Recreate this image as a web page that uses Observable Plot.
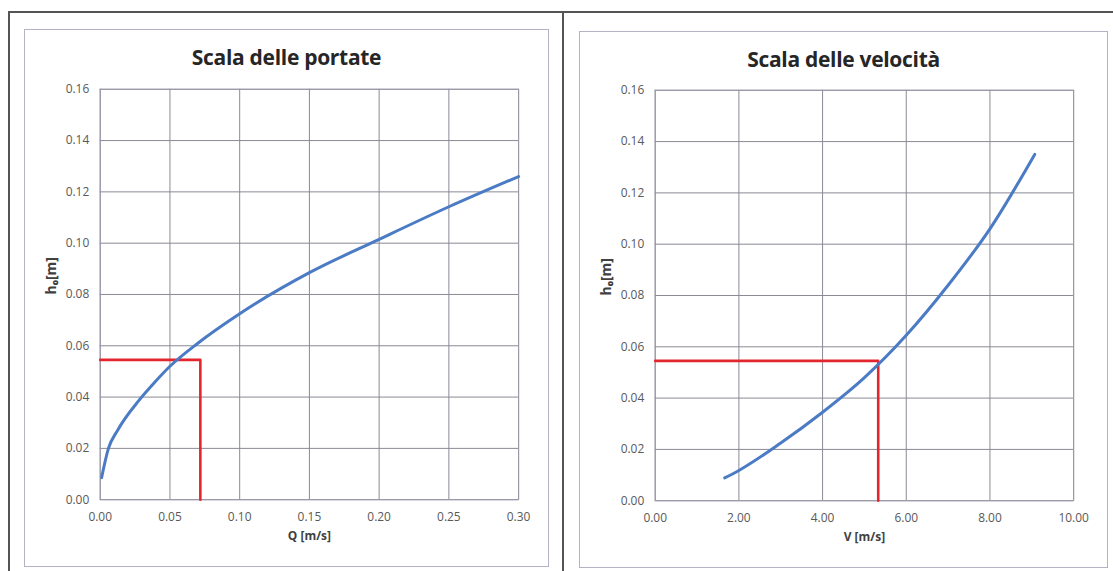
<!DOCTYPE html>
<html><head><meta charset="utf-8">
<script src="https://cdn.jsdelivr.net/npm/d3@7"></script>
<script src="https://cdn.jsdelivr.net/npm/@observablehq/plot@0.6"></script>
<style>
body{margin:0;background:#fff;font-family:Lato,"Open Sans",sans-serif;}
#page{position:relative;width:1113px;height:571px;overflow:hidden;background:#fff}
.line{position:absolute;background:#555}
.box{position:absolute;border:1px solid #b4b2c4;box-sizing:border-box}
.box svg{position:absolute;left:-1px;top:-1px}
.title{position:absolute;left:0;right:0;text-align:center;font-weight:bold;font-size:21px;color:#262626;font-family:"Open Sans",sans-serif;letter-spacing:-0.3px}
</style></head>
<body><div id="page">
<div class="line" style="left:8px;top:11px;width:1105px;height:2px"></div>
<div class="line" style="left:8px;top:11px;width:2px;height:560px"></div>
<div class="line" style="left:562px;top:11px;width:2px;height:560px"></div>
<div class="box" id="left" style="left:24px;top:29px;width:525px;height:538px"><div class="title" id="t1" style="top:13px"></div></div>
<div class="box" id="right" style="left:579px;top:31px;width:529px;height:537px"><div class="title" id="t2" style="top:13px"></div></div>
</div>
<script>
const titles = ["Scala delle portate", "Scala delle velocità"];
const xLabels = ["Q [m/s]", "V [m/s]"];
const yLabel = "h₀[m]";
const xTicksQ = [0, 0.05, 0.10, 0.15, 0.20, 0.25, 0.30];
const xTicksV = [0, 2, 4, 6, 8, 10];
const yTicks = [0, 0.02, 0.04, 0.06, 0.08, 0.10, 0.12, 0.14, 0.16];

const portateQ = [0.001, 0.0059, 0.0124, 0.0278, 0.037, 0.05, 0.07, 0.10, 0.15, 0.20, 0.25, 0.30];
const portateH = [0.0086, 0.020, 0.027, 0.0387, 0.0445, 0.052, 0.061, 0.0725, 0.0885, 0.1015, 0.1142, 0.126];
const velocitaV = [1.66, 2.0, 3.0, 4.0, 5.0, 6.0, 7.0, 8.0, 9.07];
const velocitaH = [0.0089, 0.0118, 0.0225, 0.0345, 0.048, 0.0645, 0.084, 0.106, 0.135];
const readQ = 0.0718, readV = 5.33, readH = 0.0545;

const fmt = d3.format(".2f");
const blue = "#4a7bc4", red = "#e3262d", grid = "#8a8a96";

function chart(xs, ys, xTicks, xDomain, xLabel, readX, w, h, m) {
  const data = xs.map((x, i) => ({x, y: ys[i]}));
  return Plot.plot({
    width: w, height: h,
    marginLeft: m[0], marginTop: m[1], marginRight: m[2], marginBottom: m[3],
    style: {background: "transparent", color: "#595959", fontSize: "12px", fontFamily: "'Open Sans', Lato, sans-serif"},
    x: {domain: xDomain},
    y: {domain: [0, 0.16]},
    marks: [
      Plot.gridX(xTicks, {stroke: grid, strokeOpacity: 1}),
      Plot.gridY(yTicks, {stroke: grid, strokeOpacity: 1}),
      Plot.frame({stroke: "#9a98aa"}),
      Plot.axisX({ticks: xTicks, tickSize: 0, tickPadding: 13, tickFormat: fmt, label: null}),
      Plot.axisY({ticks: yTicks, tickSize: 0, tickPadding: 11, tickFormat: fmt, label: null}),
      Plot.text([xLabel], {frameAnchor: "bottom", dy: 40, fontWeight: "bold", fontSize: 12, fill: "#404040"}),
      Plot.text([yLabel], {frameAnchor: "left", dx: -49, rotate: -90, fontWeight: "bold", fontSize: 14, fill: "#404040"}),
      Plot.line([{x: xDomain[0], y: readH}, {x: readX, y: readH}, {x: readX, y: 0}], {x: "x", y: "y", stroke: red, strokeWidth: 2.6}),
      Plot.line(data, {x: "x", y: "y", stroke: blue, strokeWidth: 3, curve: "monotone-x"})
    ]
  });
}

document.getElementById("t1").textContent = titles[0];
document.getElementById("t2").textContent = titles[1];
document.getElementById("left").append(chart(portateQ, portateH, xTicksQ, [0, 0.30], xLabels[0], readQ, 525, 538, [76, 60, 29, 66]));
document.getElementById("right").append(chart(velocitaV, velocitaH, xTicksV, [0, 10], xLabels[1], readV, 529, 537, [76, 59, 33, 66]));
</script>
</body></html>
